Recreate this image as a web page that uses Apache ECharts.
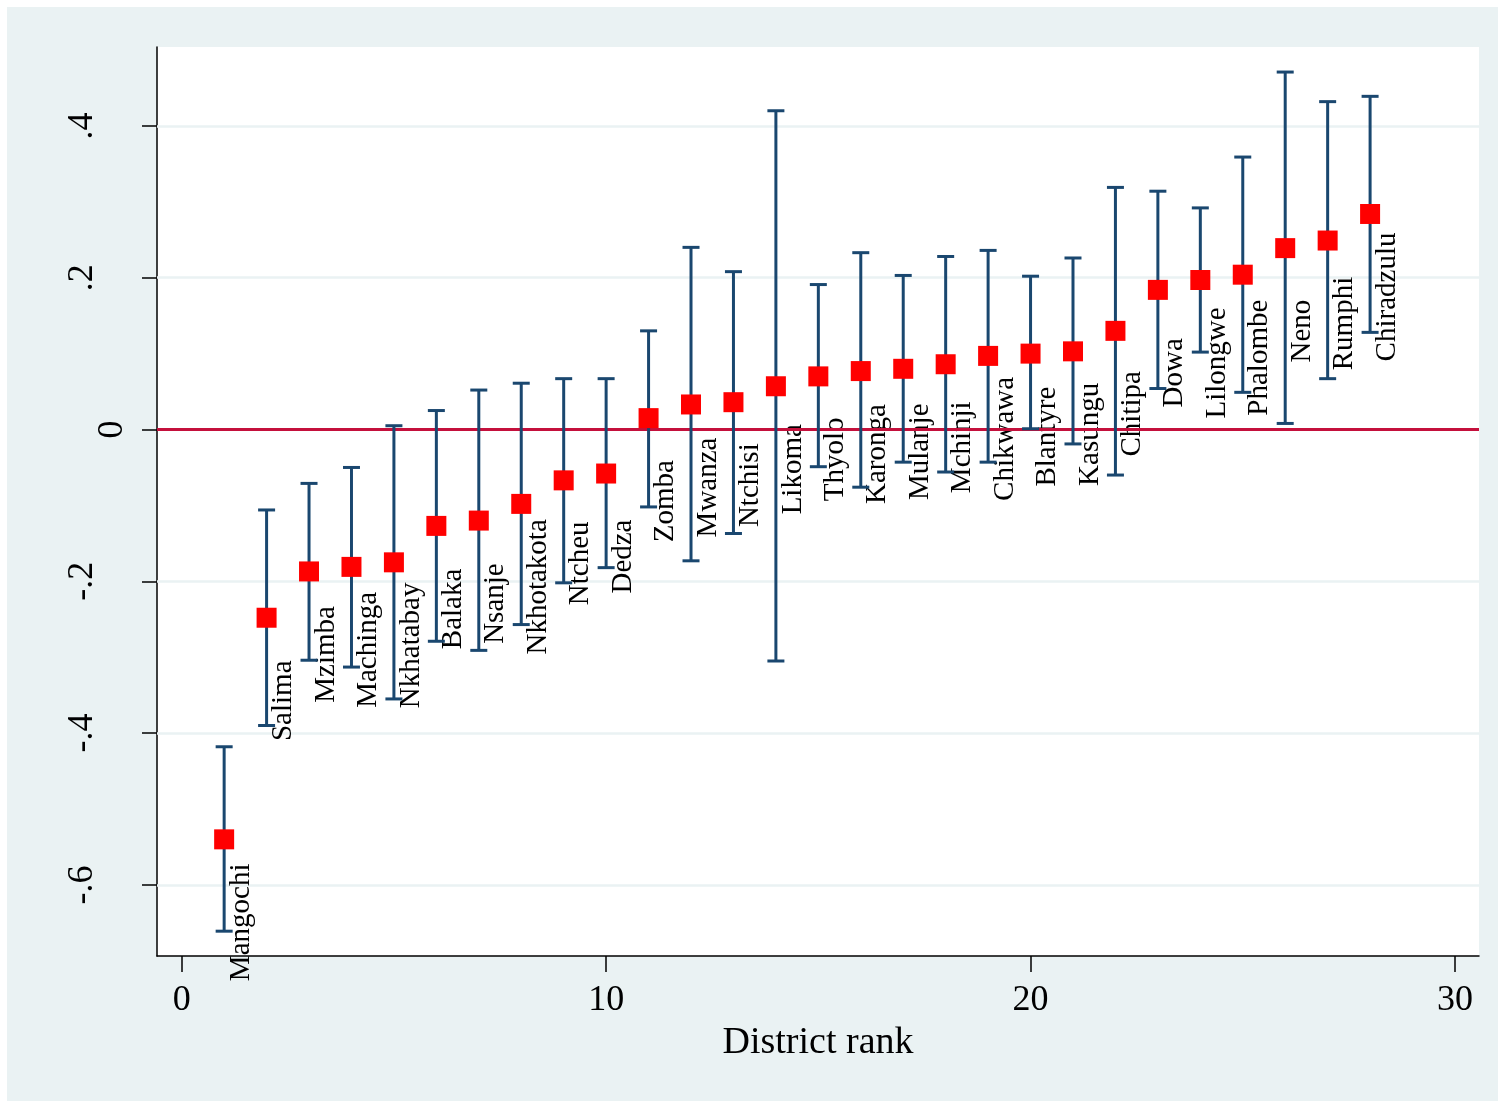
<!DOCTYPE html>
<html>
<head>
<meta charset="utf-8">
<title>District rank</title>
<script src="https://cdn.jsdelivr.net/npm/echarts@6/dist/echarts.min.js"></script>
<style>
  html, body { margin: 0; padding: 0; background: #ffffff; }
  #chart { position: absolute; left: 7px; top: 7px; width: 1491px; height: 1094px; background: #eaf2f3; }
</style>
</head>
<body>
<div id="chart"></div>
<script>
// Districts ordered by rank, with point estimates and confidence bounds
const districts = ["Mangochi", "Salima", "Mzimba", "Machinga", "Nkhatabay", "Balaka", "Nsanje",
  "Nkhotakota", "Ntcheu", "Dedza", "Zomba", "Mwanza", "Ntchisi", "Likoma", "Thyolo", "Karonga",
  "Mulanje", "Mchinji", "Chikwawa", "Blantyre", "Kasungu", "Chitipa", "Dowa", "Lilongwe",
  "Phalombe", "Neno", "Rumphi", "Chiradzulu"];
const ranks = [1, 2, 3, 4, 5, 6, 7, 8, 9, 10, 11, 12, 13, 14, 15, 16, 17, 18, 19, 20,
  21, 22, 23, 24, 25, 26, 27, 28];
const estimates = [-0.540, -0.248, -0.187, -0.181, -0.175, -0.127, -0.120, -0.098, -0.067, -0.058,
  0.015, 0.033, 0.036, 0.057, 0.070, 0.077, 0.080, 0.086, 0.097, 0.100,
  0.103, 0.130, 0.184, 0.197, 0.204, 0.239, 0.249, 0.284];
const upperBounds = [-0.418, -0.106, -0.071, -0.050, 0.005, 0.025, 0.052, 0.061, 0.067, 0.067,
  0.130, 0.240, 0.208, 0.420, 0.191, 0.233, 0.203, 0.228, 0.236, 0.202,
  0.226, 0.319, 0.314, 0.292, 0.359, 0.471, 0.432, 0.439];
const lowerBounds = [-0.661, -0.390, -0.304, -0.313, -0.355, -0.279, -0.291, -0.257, -0.202, -0.182,
  -0.102, -0.173, -0.137, -0.305, -0.049, -0.076, -0.043, -0.056, -0.043, 0.001,
  -0.019, -0.060, 0.054, 0.102, 0.049, 0.008, 0.067, 0.128];

// Axis ticks; the zero label sits closer to the axis than the others
const xTicks = [0, 10, 20, 30];
const yTicks = [-0.6, -0.4, -0.2, 0, 0.2, 0.4];
const yTickLabels = ["-.6", "-.4", "-.2", "0", ".2", ".4"];
const yOuterLabelTicks = [-0.6, -0.4, -0.2, 0.2, 0.4];
const yInnerLabelTicks = [0];
const yGridValues = [-0.6, -0.4, -0.2, 0.2, 0.4];
const referenceLine = 0;

const serif = "'Liberation Serif', 'DejaVu Serif', serif";
const navy = '#1a476f';
const yMin = -0.6937, yMax = 0.504;

const intervalData = ranks.map((r, i) => [r, lowerBounds[i], upperBounds[i]]);
const pointData = ranks.map((r, i) => [r, estimates[i], districts[i]]);

const yLabelText = v => {
  const k = yTicks.findIndex(t => Math.abs(t - v) < 1e-9);
  return k >= 0 ? yTickLabels[k] : '';
};

const chart = echarts.init(document.getElementById('chart'), null, { renderer: 'canvas' });

chart.setOption({
  animation: false,
  backgroundColor: '#eaf2f3',
  grid: {
    left: 150, top: 40, width: 1322, height: 909,
    show: true, backgroundColor: '#ffffff', borderWidth: 0,
    containLabel: false
  },
  xAxis: {
    type: 'value',
    min: -0.582, max: 30.566,
    name: 'District rank',
    nameLocation: 'middle',
    nameGap: 62,
    nameTextStyle: { fontFamily: serif, fontSize: 38, color: '#000' },
    axisLine: { show: true, onZero: false, lineStyle: { color: '#000', width: 1.5 } },
    axisTick: { show: true, length: 16, customValues: xTicks, lineStyle: { color: '#000', width: 1.5 } },
    axisLabel: { customValues: xTicks, margin: 27, fontFamily: serif, fontSize: 36, color: '#000' },
    splitLine: { show: false }
  },
  yAxis: [
    {
      type: 'value',
      min: yMin, max: yMax,
      position: 'left',
      axisLine: { show: true, onZero: false, lineStyle: { color: '#000', width: 1.5 } },
      axisTick: { show: true, length: 15, customValues: yTicks, lineStyle: { color: '#000', width: 1.5 } },
      axisLabel: {
        customValues: yOuterLabelTicks, rotate: 90, margin: 56,
        fontFamily: serif, fontSize: 36, color: '#000',
        formatter: yLabelText
      },
      splitLine: { show: false }
    },
    {
      type: 'value',
      min: yMin, max: yMax,
      position: 'left',
      axisLine: { show: false, onZero: false },
      axisTick: { show: false },
      axisLabel: {
        customValues: yInnerLabelTicks, rotate: 90, margin: 26,
        fontFamily: serif, fontSize: 36, color: '#000',
        formatter: yLabelText
      },
      splitLine: { show: false }
    }
  ],
  series: [
    {
      // horizontal grid lines
      type: 'line', data: [], z: 1, silent: true,
      markLine: {
        z: 1,
        silent: true, symbol: 'none', animation: false,
        label: { show: false },
        lineStyle: { color: '#eaf2f3', width: 2.5, type: 'solid' },
        emphasis: { disabled: true },
        data: yGridValues.map(v => ({ yAxis: v }))
      }
    },
    {
      // district names, running upward below each marker
      type: 'scatter', z: 2, silent: true,
      data: pointData,
      symbol: 'rect', symbolSize: 20,
      itemStyle: { color: 'transparent', opacity: 0 },
      emphasis: { disabled: true },
      label: {
        show: true,
        position: 'inside',
        offset: [-83, 17],
        rotate: 90,
        align: 'center',
        verticalAlign: 'middle',
        fontFamily: serif,
        fontSize: 29,
        color: '#000',
        opacity: 1,
        textBorderWidth: 0,
        textBorderColor: 'transparent',
        formatter: p => p.data[2]
      }
    },
    {
      // zero reference line
      type: 'line', data: [], z: 3, silent: true,
      markLine: {
        z: 3,
        silent: true, symbol: 'none', animation: false,
        label: { show: false },
        lineStyle: { color: '#c4103c', width: 3, type: 'solid' },
        emphasis: { disabled: true },
        data: [{ yAxis: referenceLine }]
      }
    },
    {
      // confidence intervals with caps
      type: 'custom', z: 4, silent: true,
      data: intervalData,
      renderItem: (params, api) => {
        const x = api.value(0);
        const lo = api.coord([x, api.value(1)]);
        const hi = api.coord([x, api.value(2)]);
        const cap = 8.5;
        const style = { stroke: navy, lineWidth: 3, fill: null };
        return {
          type: 'group',
          children: [
            { type: 'line', shape: { x1: hi[0], y1: hi[1], x2: lo[0], y2: lo[1] }, style },
            { type: 'line', shape: { x1: hi[0] - cap, y1: hi[1], x2: hi[0] + cap, y2: hi[1] }, style },
            { type: 'line', shape: { x1: lo[0] - cap, y1: lo[1], x2: lo[0] + cap, y2: lo[1] }, style }
          ]
        };
      }
    },
    {
      // point estimates
      type: 'scatter', z: 5, silent: true,
      data: pointData,
      symbol: 'rect', symbolSize: 20,
      itemStyle: { color: '#ff0000', opacity: 1 },
      emphasis: { disabled: true },
      label: { show: false }
    }
  ]
});
</script>
</body>
</html>
